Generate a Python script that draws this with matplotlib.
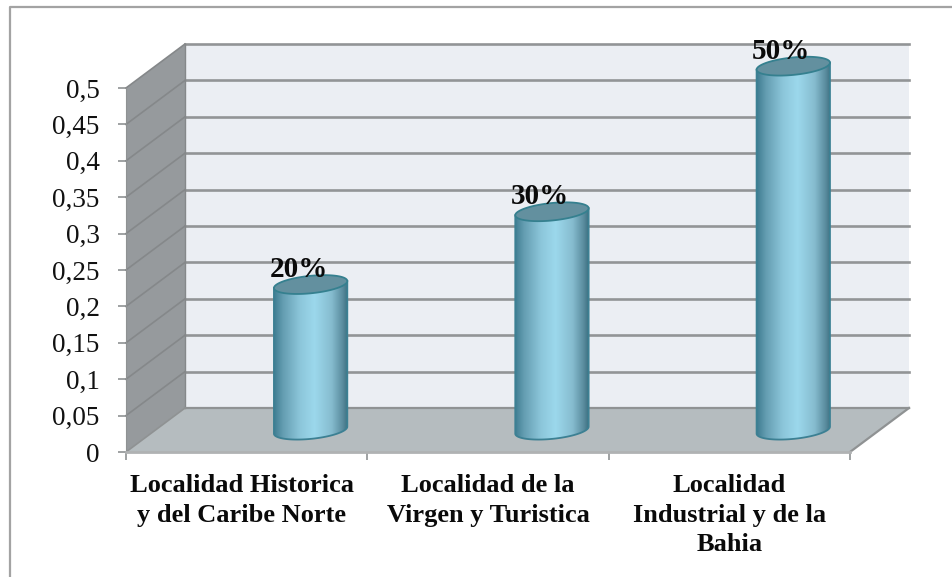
import numpy as np
import matplotlib
matplotlib.use("Agg")
import matplotlib.pyplot as plt
from matplotlib.colors import LinearSegmentedColormap
from matplotlib.lines import Line2D
from matplotlib.patches import Polygon
from matplotlib.transforms import ScaledTranslation

categories = ["Localidad Historica\ny del Caribe Norte",
              "Localidad de la\nVirgen y Turistica",
              "Localidad\nIndustrial y de la\nBahia"]
values = [0.2, 0.3, 0.5]
bar_labels = ["20%", "30%", "50%"]
y_ticks = [0, 0.05, 0.1, 0.15, 0.2, 0.25, 0.3, 0.35, 0.4, 0.45, 0.5]
y_tick_labels = ["0", "0,05", "0,1", "0,15", "0,2", "0,25", "0,3", "0,35", "0,4", "0,45", "0,5"]

W, H = 953, 577
# axes box in pixels
left, right, top, bottom = 126, 850, 88, 452

# depth of the fake 3d box, in data units
depth_x = 59 / ((right - left) / 3)
depth_y = 44 / ((bottom - top) / 0.5)

# cylinder shape, data units
bar_shift = 0.265
base_y = 0.030
rad_x = 0.152
rad_y = 0.012
skew = 0.0048

fig = plt.figure(figsize=(W / 100, H / 100), dpi=100, facecolor="white")
ax = fig.add_axes([left / W, 1 - bottom / H, (right - left) / W, (bottom - top) / H])
ax.set_xlim(0, 3)
ax.set_ylim(0, 0.5)
ax.patch.set_visible(False)

# outer frame of the pasted chart
fig.add_artist(Line2D([10 / W, 10 / W, 1], [0, 1 - 7 / H, 1 - 7 / H], color="#a3a3a3", lw=1.6))

# back wall, side wall, floor
ax.add_patch(Polygon([(depth_x, depth_y), (3 + depth_x, depth_y), (3 + depth_x, 0.5 + depth_y), (depth_x, 0.5 + depth_y)],
                     closed=True, fc="#ebeef3", ec="none", clip_on=False, zorder=1))
ax.add_patch(Polygon([(0, 0), (depth_x, depth_y), (depth_x, 0.5 + depth_y), (0, 0.5)],
                     closed=True, fc="#969a9d", ec="none", clip_on=False, zorder=1))
ax.add_patch(Polygon([(0, 0), (3, 0), (3 + depth_x, depth_y), (depth_x, depth_y)],
                     closed=True, fc="#b5bcbf", ec="none", clip_on=False, zorder=2))
ax.plot([3, 3 + depth_x], [0, depth_y], color="#8f9293", lw=1.6, clip_on=False, zorder=3)
ax.plot([depth_x, 3 + depth_x], [depth_y, depth_y], color="#8f9293", lw=1.6, clip_on=False, zorder=3)
ax.plot([0, depth_x], [0, depth_y], color="#8f9293", lw=1.2, clip_on=False, zorder=3)

# grid lines
for y in y_ticks[1:]:
    ax.plot([depth_x, 3 + depth_x], [y + depth_y, y + depth_y], color="#929496", lw=1.9, clip_on=False, zorder=2)
    ax.plot([0, depth_x], [y, y + depth_y], color="#85888a", lw=1.2, clip_on=False, zorder=2)
ax.plot([depth_x, depth_x], [depth_y, 0.5 + depth_y], color="#85888a", lw=1, clip_on=False, zorder=2)

body_cmap = LinearSegmentedColormap.from_list(
    "cyl", [(0, "#3f7d92"), (0.12, "#649db1"), (0.35, "#8cc6da"), (0.55, "#9cd8ec"),
            (0.78, "#86bccf"), (0.93, "#5a8c9e"), (1, "#3c6f80")])
gradient = np.linspace(0, 1, 256).reshape(1, -1)

for i, val in enumerate(values):
    cx = i + 0.5 + bar_shift
    y_top = base_y + val
    t = np.linspace(0, np.pi, 80)
    # front part of the bottom rim, then the back of the same curve at the top
    xb = cx - rad_x * np.cos(t)
    yb = base_y - rad_y * np.sin(t) - skew * np.cos(t)
    xt = xb[::-1]
    yt = y_top - skew * np.cos(t)[::-1]
    outline = np.column_stack([np.r_[xb, xt], np.r_[yb, yt]])
    clip = Polygon(outline, closed=True, fc="none", ec="#3c8093", lw=1.3, clip_on=False, zorder=5)
    ax.add_patch(clip)
    im = ax.imshow(gradient, cmap=body_cmap, aspect="auto", zorder=4,
                   extent=(cx - rad_x, cx + rad_x, base_y - 0.03, y_top + 0.03))
    im.set_clip_path(Polygon(outline, closed=True, transform=ax.transData))
    im.set_clip_box(fig.bbox)

    # top cap
    t = np.linspace(0, 2 * np.pi, 120)
    cap = np.column_stack([cx - rad_x * np.cos(t), y_top + rad_y * np.sin(t) - skew * np.cos(t)])
    ax.add_patch(Polygon(cap, closed=True, fc="#63909f", ec="#35808f", lw=1.3, clip_on=False, zorder=6))

    ax.text(cx - 0.05, y_top + 0.0205, bar_labels[i], ha="center", va="center", family="Liberation Serif",
            weight="bold", fontsize=21, color="#0a0a0a", zorder=7, clip_on=False)

ax.set_xlim(0, 3)
ax.set_ylim(0, 0.5)

for s in ["top", "right"]:
    ax.spines[s].set_visible(False)
ax.spines["left"].set_color("#8f9293")
ax.spines["bottom"].set_color("#b0b2b3")
ax.spines["bottom"].set_linewidth(2)
ax.spines["left"].set_zorder(3)
ax.spines["bottom"].set_zorder(3)

ax.set_yticks(y_ticks)
ax.set_yticklabels(y_tick_labels, family="Liberation Serif", fontsize=19.5, color="#111111")
ax.tick_params(axis="y", length=6, width=1.2, color="#8f9293", pad=13)

ax.set_xticks([0, 1, 2, 3])
ax.set_xticklabels([])
ax.set_xticks([0.5, 1.5, 2.5], minor=True)
cat_labels = ax.set_xticklabels(categories, minor=True, family="Liberation Serif", weight="bold",
                                fontsize=19, color="#0a0a0a", linespacing=1.36)
ax.tick_params(axis="x", which="major", length=6, width=1.2, color="#8f9293")
ax.tick_params(axis="x", which="minor", length=0, pad=16)
# first label sits a bit left of its slot
cat_labels[0].set_transform(cat_labels[0].get_transform() + ScaledTranslation(-3.5 / 72, 0, fig.dpi_scale_trans))

fig.savefig("out.png", dpi=100, facecolor="white")
